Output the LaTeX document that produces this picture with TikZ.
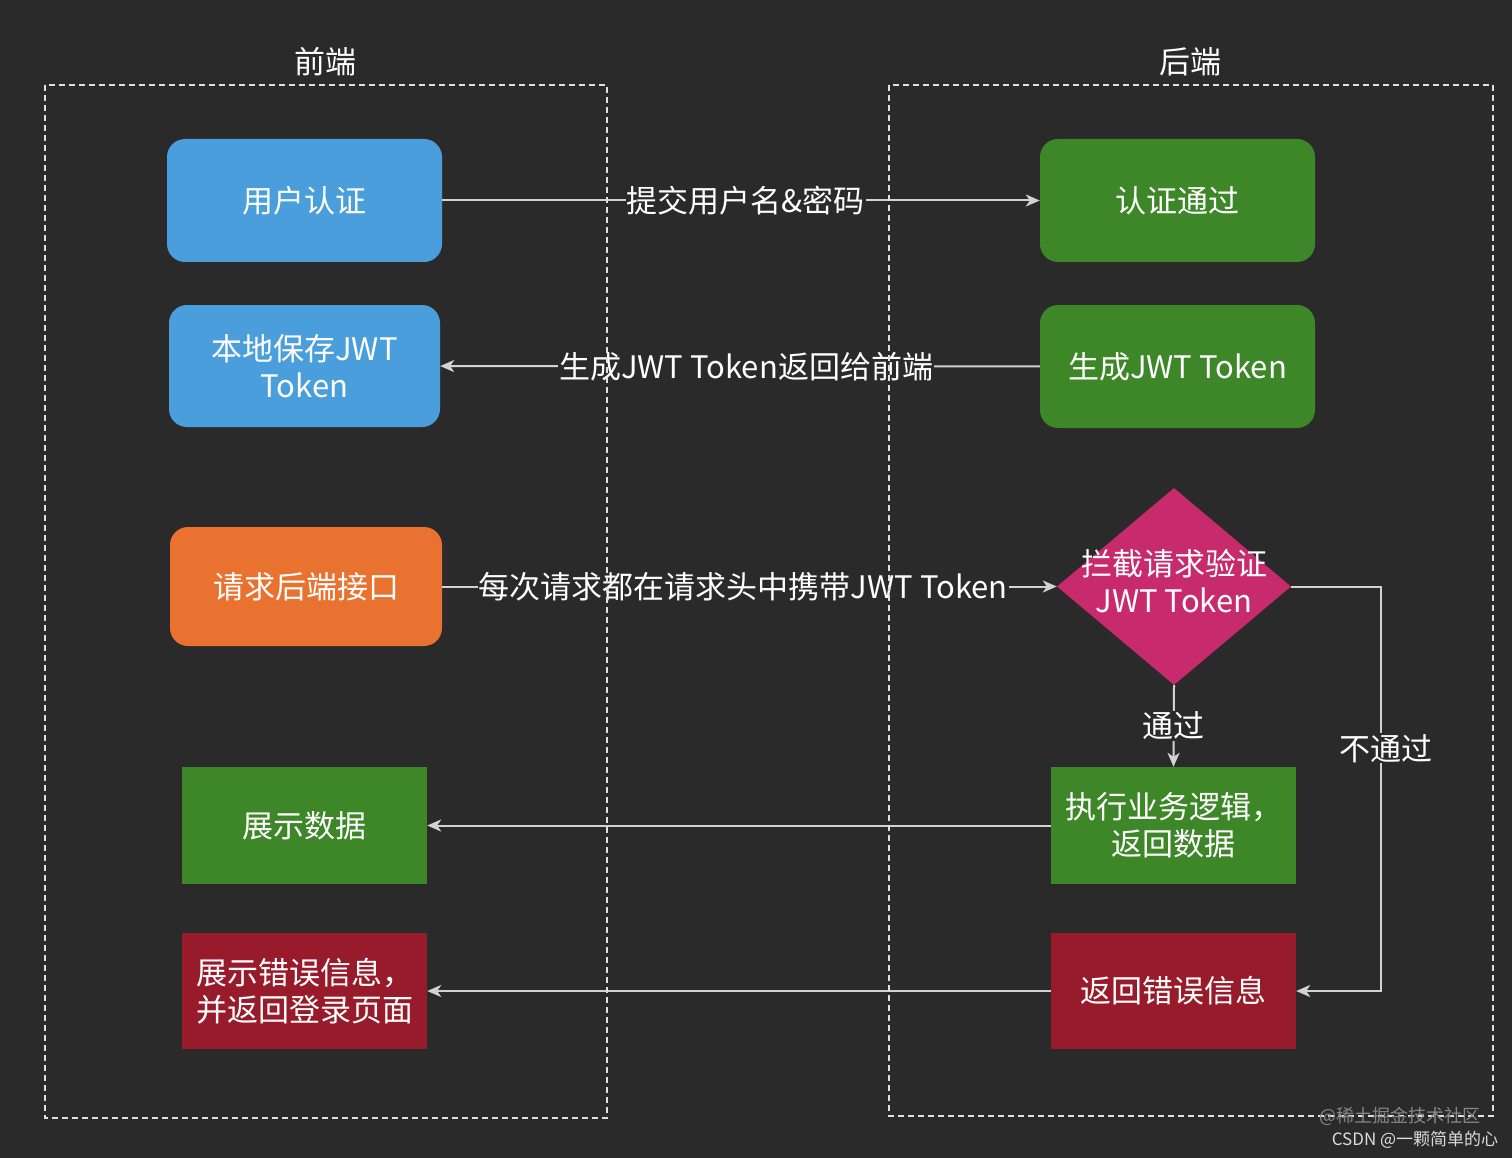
\documentclass[tikz,border=0pt]{standalone}
\usepackage{fontspec}
\setmainfont{Noto Sans CJK SC}
\usetikzlibrary{shapes.geometric,arrows.meta}
\definecolor{bg}{RGB}{42,42,42}
\definecolor{linec}{RGB}{210,210,210}
\definecolor{dashc}{RGB}{225,225,225}
\definecolor{cblue}{RGB}{73,158,219}
\definecolor{cgreen}{RGB}{61,135,40}
\definecolor{corange}{RGB}{234,114,48}
\definecolor{cmag}{RGB}{200,42,110}
\definecolor{cred}{RGB}{152,27,43}
\begin{document}
\begin{tikzpicture}[x=1pt,y=-1pt,
  txt/.style={text=white, font=\fontsize{31}{37}\selectfont},
  box/.style={txt, rectangle, inner sep=0pt, align=center},
  rbox/.style={box, rounded corners=18pt},
  lbl/.style={txt, fill=bg, inner sep=1pt},
  arr/.style={draw=linec, line width=2pt, -{Stealth[length=14pt,width=12pt,inset=4pt]}},
  ttl/.style={txt, inner sep=0pt},
  wm/.style={inner sep=0pt}
]
\fill[bg] (0,0) rectangle (1512,1158);
\useasboundingbox (0,0) rectangle (1512,1158);

% titles
\node[ttl] (tf) at (325,62) {前端};
\node[ttl] (tb) at (1190,62) {后端};

% front-end nodes
\node[rbox, fill=cblue, minimum width=275pt, minimum height=123pt] (ua) at (304.5,200.5) {用户认证};
\node[rbox, fill=cblue, minimum width=271pt, minimum height=122pt] (ls) at (304.5,366) {本地保存JWT\\Token};
\node[rbox, fill=corange, minimum width=272pt, minimum height=119pt] (rq) at (306,586.5) {请求后端接口};
\node[box, fill=cgreen, minimum width=245pt, minimum height=117pt] (sd) at (304.5,825.5) {展示数据};
\node[box, fill=cred, minimum width=245pt, minimum height=116pt] (se) at (304.5,991) {展示错误信息，\\并返回登录页面};

% back-end nodes
\node[rbox, fill=cgreen, minimum width=275pt, minimum height=123pt] (ap) at (1177.5,200.5) {认证通过};
\node[rbox, fill=cgreen, minimum width=275pt, minimum height=123pt] (gt) at (1177.5,366.5) {生成JWT Token};
\node[txt, diamond, fill=cmag, inner sep=0pt, minimum width=234pt, minimum height=197pt] (dm) at (1174,586.5)
  {\makebox[0pt]{\begin{tabular}{@{}c@{}}拦截请求验证\\JWT Token\end{tabular}}};
\node[box, fill=cgreen, minimum width=245pt, minimum height=117pt] (ex) at (1173.5,825.5) {执行业务逻辑，\\返回数据};
\node[box, fill=cred, minimum width=245pt, minimum height=116pt] (re) at (1173.5,991) {返回错误信息};

% connectors
\draw[arr] (ua) -- node[lbl, pos=0.508] {提交用户名\&密码} (ap);
\draw[arr] (gt) -- node[lbl, pos=0.49] {生成JWT Token返回给前端} (ls);
\draw[arr] (rq) -- node[lbl, pos=0.49] {每次请求都在请求头中携带JWT Token} (dm);
\draw[arr] (dm.south) -- node[lbl, pos=0.5] {通过} (ex.north);
\coordinate (c1) at (1381,586.5);
\coordinate (c2) at (1381,991);
\draw[arr] (dm.east) -- (c1) -- node[lbl, pos=0.4, xshift=5pt] {不通过} (c2) -- (re.east);
\draw[arr] (ex) -- (sd);
\draw[arr] (re) -- (se);

% containers
\draw[dashc, line width=1.5pt, dash pattern=on 6pt off 4pt] (45,85) rectangle (607,1118);
\draw[dashc, line width=1.5pt, dash pattern=on 6pt off 4pt] (889,85) rectangle (1493,1116);

% watermarks
\node[wm, text={rgb,255:red,135;green,135;blue,135}, font=\fontsize{18}{22}\selectfont] (w1) at (1400,1116) {@稀土掘金技术社区};
\node[wm, text={rgb,255:red,220;green,220;blue,220}, font=\fontsize{17}{20}\selectfont] (w2) at (1415,1140) {CSDN @一颗简单的心};
\end{tikzpicture}
\end{document}
